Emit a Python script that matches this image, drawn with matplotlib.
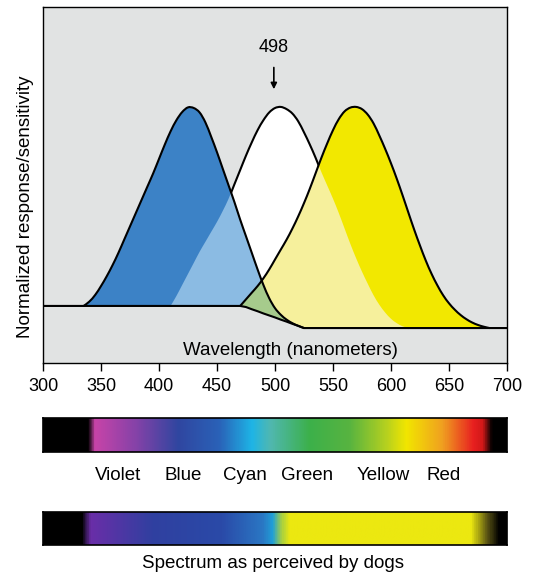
import numpy as np
import matplotlib
matplotlib.use("Agg")
import matplotlib.pyplot as plt
from matplotlib.colors import LinearSegmentedColormap
from matplotlib.path import Path
from matplotlib.patches import PathPatch

plt.rcParams['font.family'] = ['Liberation Sans', 'DejaVu Sans']

# wavelength grid (nm), 5 nm steps
wl = np.arange(300, 705, 5)

# lower edge of the drawing (upper plane -> lower plane)
floor = [0.10] * 35 + [0.095, 0.085, 0.076, 0.066, 0.057, 0.048, 0.038, 0.029, 0.019, 0.010] + [0.0] * 36

# S-cone (blue), 335..525 nm
blue_start = 335
blue_vals = [0.10, 0.12, 0.15, 0.19, 0.235, 0.285, 0.34, 0.40, 0.46, 0.52,
             0.58, 0.64, 0.70, 0.765, 0.83, 0.89, 0.94, 0.977, 0.998, 0.995,
             0.975, 0.93, 0.865, 0.795, 0.72, 0.645, 0.57, 0.49, 0.415, 0.34,
             0.265, 0.195, 0.135, 0.09, 0.06, 0.038, 0.022, 0.01, 0.0]

# rods (white), 410..615 nm
white_start = 410
white_vals = [0.10, 0.145, 0.195, 0.245, 0.295, 0.345, 0.39, 0.435, 0.48, 0.53,
              0.585, 0.65, 0.715, 0.78, 0.84, 0.895, 0.94, 0.975, 0.995, 1.00,
              0.99, 0.97, 0.935, 0.885, 0.83, 0.77, 0.705, 0.645, 0.585, 0.52,
              0.45, 0.38, 0.315, 0.255, 0.20, 0.148, 0.105, 0.07, 0.042, 0.022,
              0.008, 0.0]

# L-cone (yellow), 470..685 nm
yellow_start = 470
yellow_vals = [0.10, 0.13, 0.16, 0.19, 0.225, 0.265, 0.31, 0.355, 0.40, 0.45,
               0.505, 0.565, 0.63, 0.70, 0.77, 0.835, 0.895, 0.945, 0.98, 0.997,
               1.0, 0.99, 0.965, 0.925, 0.87, 0.81, 0.745, 0.675, 0.60, 0.522,
               0.445, 0.373, 0.305, 0.245, 0.193, 0.148, 0.112, 0.083, 0.059, 0.04,
               0.025, 0.014, 0.006, 0.0]

peak_label = 498

# spectrum bars: (wavelength, colour) stops
human_stops = [(300, '#000000'), (338, '#000000'), (344, '#c844a8'), (380, '#8442a8'),
               (416, '#3046a0'), (452, '#2a62b8'), (480, '#1eb4e6'), (496, '#50b8b0'),
               (530, '#3cb04a'), (565, '#58b440'), (596, '#b4d020'), (614, '#f2e600'),
               (645, '#f0a020'), (672, '#e82020'), (680, '#d01818'), (688, '#000000'),
               (700, '#000000')]
dog_stops = [(300, '#000000'), (333, '#000000'), (340, '#6a2ea8'), (394, '#3040a0'),
             (454, '#2a4aa8'), (490, '#2a78c4'), (498, '#20a0d8'), (506, '#a8d040'),
             (513, '#ece810'), (670, '#ece810'), (684, '#5a5414'), (694, '#000000'),
             (700, '#000000')]

color_names = ['Violet', 'Blue', 'Cyan', 'Green', 'Yellow', 'Red']
color_pos = [365, 421, 474, 528, 593, 645]

fl = np.array(floor, dtype=float)


def curve_path(start, vals, closed):
    # smooth bezier through the read points, optionally closed along the floor
    x = np.arange(start, start + 5 * len(vals), 5)
    pts = np.column_stack([x, vals]).astype(float)
    n = len(pts)
    verts = [pts[0]]
    codes = [Path.MOVETO]
    for i in range(n - 1):
        p0, p1 = pts[max(i - 1, 0)], pts[i]
        p2, p3 = pts[i + 1], pts[min(i + 2, n - 1)]
        verts += [p1 + (p2 - p0) / 6, p2 - (p3 - p1) / 6, p2]
        codes += [Path.CURVE4] * 3
    if closed:
        i0 = (start - 300) // 5
        for j in range(i0 + len(vals) - 1, i0 - 1, -1):
            verts.append((wl[j], fl[j]))
            codes.append(Path.LINETO)
        verts.append(pts[0])
        codes.append(Path.CLOSEPOLY)
    return Path(np.array(verts), codes)


fig = plt.figure(figsize=(5.33, 5.77), dpi=100)
ax = fig.add_axes([0.0807, 0.3709, 0.8705, 0.6170])
ax.set_facecolor('#e1e3e3')

c_blue = '#3c82c6'
c_lblue = '#8bbbe3'
c_yellow = '#f2e800'
c_lyellow = '#f6f09c'
c_green = '#a6cb8c'

blue_shape = curve_path(blue_start, blue_vals, True)
white_shape = curve_path(white_start, white_vals, True)
yellow_shape = curve_path(yellow_start, yellow_vals, True)


def add_shape(path, color, z, clip=None):
    p = PathPatch(path, facecolor=color, edgecolor='none', lw=0, zorder=z)
    ax.add_patch(p)
    if clip is not None:
        cp = PathPatch(clip, transform=ax.transData)
        p.set_clip_path(cp)
    return p


def add_outline(start, vals, z):
    ax.add_patch(PathPatch(curve_path(start, vals, False), fill=False,
                           edgecolor='black', lw=1.5, zorder=z, capstyle='round'))


add_shape(white_shape, 'white', 1)
add_outline(white_start, white_vals, 2)
add_shape(blue_shape, c_blue, 3)
add_shape(yellow_shape, c_yellow, 3)
add_shape(white_shape, c_lblue, 3.1, clip=blue_shape)
add_shape(white_shape, c_lyellow, 3.2, clip=yellow_shape)
add_shape(blue_shape, c_green, 3.3, clip=yellow_shape)
add_outline(blue_start, blue_vals, 4)
add_outline(yellow_start, yellow_vals, 4)
ax.plot(wl, fl, color='black', lw=1.5, zorder=4)

ax.annotate(str(peak_label), xy=(499, 1.08), xytext=(499, 1.267),
            ha='center', va='center', fontsize=13,
            arrowprops=dict(arrowstyle='-|>', color='black', lw=1.2,
                            mutation_scale=9, shrinkA=6, shrinkB=0))

ax.text(513, -0.10, 'Wavelength (nanometers)', ha='center', va='center', fontsize=13.5)

ax.set_xlim(300, 700)
ax.set_ylim(-0.158, 1.452)
ax.set_xticks(np.arange(300, 701, 50))
ax.set_yticks([])
ax.tick_params(axis='x', direction='out', length=6, width=1, labelsize=13, pad=5)
ax.set_ylabel('Normalized response/sensitivity', fontsize=13.5)
ax.yaxis.set_label_coords(-0.02, 0.44)
for s in ax.spines.values():
    s.set_linewidth(1.0)


def spectrum_bar(rect, stops):
    bx = fig.add_axes(rect)
    cmap = LinearSegmentedColormap.from_list(
        'spec', [((w - 300) / 400, c) for w, c in stops])
    grad = np.linspace(300, 700, 800)[np.newaxis, :]
    bx.imshow(grad, aspect='auto', cmap=cmap, vmin=300, vmax=700,
              extent=[300, 700, 0, 1])
    bx.set_xlim(300, 700)
    bx.set_ylim(0, 1)
    bx.set_xticks([])
    bx.set_yticks([])
    for s in bx.spines.values():
        s.set_linewidth(1.2)
    return bx


bar1 = spectrum_bar([0.0807, 0.2166, 0.8705, 0.0589], human_stops)
for name, pos in zip(color_names, color_pos):
    bar1.text(pos, -0.68, name, transform=bar1.get_xaxis_transform(),
              ha='center', va='center', fontsize=13.5)

bar2 = spectrum_bar([0.0807, 0.0555, 0.8705, 0.0572], dog_stops)
bar2.text(498, -0.55, 'Spectrum as perceived by dogs', transform=bar2.get_xaxis_transform(),
          ha='center', va='center', fontsize=13.5)

fig.savefig('out.png', dpi=100)
